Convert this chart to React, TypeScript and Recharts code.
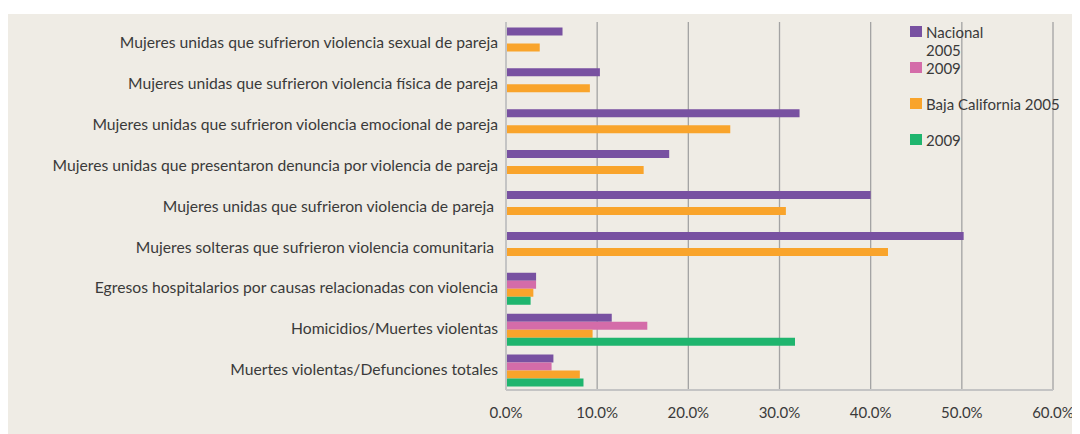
import { BarChart, Bar, XAxis, YAxis, CartesianGrid } from "recharts";

// Colores de la serie
const PURPLE = "#7851a1";
const PINK = "#d46ca9";
const ORANGE = "#f9a42b";
const GREEN = "#1fb56e";
const BG = "#efece5";
const TEXT = "#3a3a3a";
const FONT = "Lato, 'Open Sans', sans-serif";

const categories = [
  "Mujeres unidas que sufrieron violencia sexual de pareja",
  "Mujeres unidas que sufrieron violencia física de pareja",
  "Mujeres unidas que sufrieron violencia emocional de pareja",
  "Mujeres unidas que presentaron denuncia por violencia de pareja",
  "Mujeres unidas que sufrieron violencia de pareja ",
  "Mujeres solteras que sufrieron violencia comunitaria ",
  "Egresos hospitalarios por causas relacionadas con violencia",
  "Homicidios/Muertes violentas",
  "Muertes violentas/Defunciones totales",
];

const nacional2005 = [6.2, 10.3, 32.2, 17.9, 40.0, 50.2, 3.3, 11.6, 5.2];
const nacional2009 = [null, null, null, null, null, null, 3.3, 15.5, 5.0];
const baja2005 = [3.7, 9.2, 24.6, 15.1, 30.7, 41.9, 3.0, 9.5, 8.1];
const baja2009 = [null, null, null, null, null, null, 2.7, 31.7, 8.5];

const xTicks = [0, 10, 20, 30, 40, 50, 60];

const series = [
  { key: "n2005", label: "Nacional 2005", color: PURPLE, values: nacional2005 },
  { key: "n2009", label: "2009", color: PINK, values: nacional2009 },
  { key: "b2005", label: "Baja California 2005", color: ORANGE, values: baja2005 },
  { key: "b2009", label: "2009", color: GREEN, values: baja2009 },
];

const data = categories.map((name, i) => {
  const row: Record<string, any> = { name };
  series.forEach((s) => (row[s.key] = s.values[i]));
  return row;
});

function YTick({ x, y, payload }: any) {
  return (
    <text
      x={x}
      y={y}
      dy="0.36em"
      textAnchor="end"
      fill={TEXT}
      fontSize={15.7}
      fontFamily={FONT}
      style={{ whiteSpace: "pre" }}
    >
      {payload.value}
    </text>
  );
}

function ChartLegend() {
  return (
    <div style={{ position: "absolute", left: 902, top: 9, fontFamily: FONT, fontSize: 15, color: TEXT }}>
      {series.map((s, i) => (
        <div key={s.key} style={{ display: "flex", alignItems: "flex-start", height: 36 }}>
          <span style={{ width: 12, height: 11, background: s.color, marginTop: 3, marginRight: 4, flexShrink: 0 }} />
          <span style={{ lineHeight: "18px", maxWidth: i === 0 ? 70 : 200 }}>{s.label}</span>
        </div>
      ))}
    </div>
  );
}

export default function App() {
  return (
    <div style={{ position: "relative", marginTop: 6, width: 1072, height: 420, background: BG }}>
      <BarChart
        width={1072}
        height={420}
        data={data}
        layout="vertical"
        margin={{ top: 8, right: 27, left: 0, bottom: 14 }}
        barCategoryGap="13.3%"
        barGap={0}
      >
        <CartesianGrid horizontal={false} vertical stroke="#a3a3a3" strokeWidth={1.3} />
        <XAxis
          type="number"
          domain={[0, 60]}
          ticks={xTicks}
          tickFormatter={(v) => `${v.toFixed(1)}%`}
          tickLine={false}
          tickMargin={11}
          height={30}
          axisLine={{ stroke: "#c4c4c4", strokeWidth: 2 }}
          tick={{ fontSize: 15, fill: TEXT, fontFamily: FONT }}
        />
        <YAxis
          type="category"
          dataKey="name"
          width={498}
          interval={0}
          tickLine={false}
          axisLine={{ stroke: "#c4c4c4", strokeWidth: 2 }}
          tick={<YTick />}
        />
        {series.map((s) => (
          <Bar key={s.key} dataKey={s.key} fill={s.color} isAnimationActive={false} />
        ))}
      </BarChart>
      <ChartLegend />
    </div>
  );
}
